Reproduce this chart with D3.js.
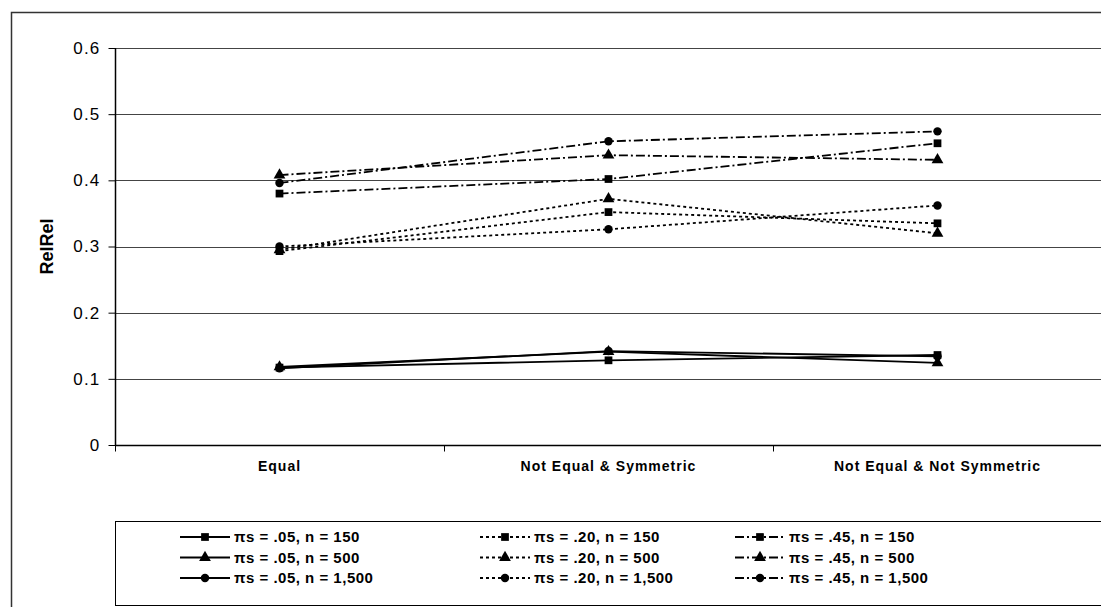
<!DOCTYPE html>
<html>
<head>
<meta charset="utf-8">
<script src="https://cdn.jsdelivr.net/npm/d3@7"></script>
<style>
  body { margin: 0; background: #fff; }
  text { font-family: "Liberation Sans", Arial, sans-serif; }
</style>
</head>
<body>
<svg id="chart" width="1101" height="607"></svg>
<script>
// categories and series values
const categories = ["Equal", "Not Equal & Symmetric", "Not Equal & Not Symmetric"];
const yTicks = [0, 0.1, 0.2, 0.3, 0.4, 0.5, 0.6];

const s05_150 = [0.117, 0.128, 0.136];
const s05_500 = [0.118, 0.141, 0.124];
const s05_1500 = [0.116, 0.142, 0.134];
const s20_150 = [0.293, 0.352, 0.335];
const s20_500 = [0.295, 0.372, 0.320];
const s20_1500 = [0.300, 0.326, 0.362];
const s45_150 = [0.380, 0.402, 0.456];
const s45_500 = [0.408, 0.438, 0.431];
const s45_1500 = [0.396, 0.459, 0.474];

const seriesNames = [
  "πs = .05, n = 150", "πs = .05, n = 500", "πs = .05, n = 1,500",
  "πs = .20, n = 150", "πs = .20, n = 500", "πs = .20, n = 1,500",
  "πs = .45, n = 150", "πs = .45, n = 500", "πs = .45, n = 1,500"
];
const seriesValues = [s05_150, s05_500, s05_1500, s20_150, s20_500, s20_1500, s45_150, s45_500, s45_1500];

const dashFor = i => [null, "3,3", "9,3,2,3"][Math.floor(i / 3)];
const symFor = i => [d3.symbolSquare, d3.symbolTriangle, d3.symbolCircle][i % 3];
const sizeFor = i => [60, 60, 56][i % 3];

const svg = d3.select("#chart");

// outer chart border
svg.append("rect")
  .attr("x", 11.5).attr("y", 12.5)
  .attr("width", 1200).attr("height", 700)
  .attr("fill", "none").attr("stroke", "#333").attr("stroke-width", 1.5);

const plot = { left: 115, top: 48, right: 1102, bottom: 445 };

const x = d3.scaleBand().domain(categories).range([plot.left, plot.right]);
const y = d3.scaleLinear().domain([0, 0.6]).range([plot.bottom, plot.top]);

// gridlines
svg.append("g")
  .selectAll("line")
  .data(yTicks.filter(d => d > 0))
  .join("line")
  .attr("x1", plot.left).attr("x2", plot.right)
  .attr("y1", d => Math.round(y(d)) + 0.5).attr("y2", d => Math.round(y(d)) + 0.5)
  .attr("stroke", "#444").attr("stroke-width", 1);

// y axis
const yAxis = svg.append("g")
  .attr("transform", "translate(" + (plot.left + 0.5) + ",0)")
  .call(d3.axisLeft(y).tickValues(yTicks).tickFormat(d => d === 0 ? "0" : d3.format(".1f")(d)).tickSize(7).tickPadding(8));
yAxis.select(".domain").attr("stroke", "#000").attr("stroke-width", 1.5).attr("d", "M0," + plot.top + "V" + plot.bottom);
yAxis.selectAll("text")
  .attr("font-size", 17).attr("fill", "#000")
  .attr("letter-spacing", 1.2)
  .attr("font-family", "Liberation Sans, Arial, sans-serif");

// x axis with ticks between categories
const xAxis = svg.append("g")
  .attr("transform", "translate(0," + (plot.bottom + 0.5) + ")");
xAxis.append("line")
  .attr("x1", plot.left).attr("x2", plot.right)
  .attr("stroke", "#000").attr("stroke-width", 1.5);
xAxis.selectAll(".tk")
  .data(categories)
  .join("line")
  .attr("class", "tk")
  .attr("x1", d => Math.round(x(d)) + 0.5).attr("x2", d => Math.round(x(d)) + 0.5)
  .attr("y1", 0).attr("y2", 6)
  .attr("stroke", "#000");
xAxis.selectAll(".lbl")
  .data(categories)
  .join("text")
  .attr("class", "lbl")
  .attr("x", d => x(d) + x.bandwidth() / 2)
  .attr("y", 25)
  .attr("text-anchor", "middle")
  .attr("font-size", 14).attr("font-weight", "bold")
  .attr("letter-spacing", 1)
  .text(d => d);

// y title
svg.append("text")
  .attr("transform", "translate(53," + (y(0.3)) + ") rotate(-90)")
  .attr("text-anchor", "middle")
  .attr("font-size", 18).attr("font-weight", "bold")
  .text("RelRel");

// lines
const line = d3.line()
  .x((d, i) => x(categories[i]) + x.bandwidth() / 2)
  .y(d => y(d));

seriesValues.forEach((vals, i) => {
  const g = svg.append("g");
  g.append("path")
    .datum(vals)
    .attr("d", line)
    .attr("fill", "none")
    .attr("stroke", "#000")
    .attr("stroke-width", 1.8)
    .attr("stroke-dasharray", dashFor(i));
  g.selectAll("path.m")
    .data(vals)
    .join("path")
    .attr("class", "m")
    .attr("transform", (d, j) => "translate(" + (x(categories[j]) + x.bandwidth() / 2) + "," + y(d) + ")")
    .attr("d", d3.symbol().type(symFor(i)).size(sizeFor(i)))
    .attr("fill", "#000");
});

// legend
const legend = svg.append("g");
legend.append("rect")
  .attr("x", 115.5).attr("y", 521.5)
  .attr("width", 1100).attr("height", 84)
  .attr("fill", "#fff").attr("stroke", "#000").attr("stroke-width", 1);

const colX = [180, 480, 735];
const rowY = [537, 557.5, 578];
seriesNames.forEach((name, i) => {
  const cx = colX[Math.floor(i / 3)];
  const cy = rowY[i % 3];
  const item = legend.append("g").attr("transform", "translate(" + cx + "," + cy + ")");
  item.append("line")
    .attr("x1", 0).attr("x2", 50)
    .attr("stroke", "#000").attr("stroke-width", 1.8)
    .attr("stroke-dasharray", dashFor(i));
  item.append("path")
    .attr("transform", "translate(25,0)")
    .attr("d", d3.symbol().type(symFor(i)).size(sizeFor(i)))
    .attr("fill", "#000");
  item.append("text")
    .attr("x", 54).attr("y", 5)
    .attr("font-size", 15).attr("font-weight", "bold")
    .attr("letter-spacing", 0.5)
    .text(name);
});
</script>
</body>
</html>
